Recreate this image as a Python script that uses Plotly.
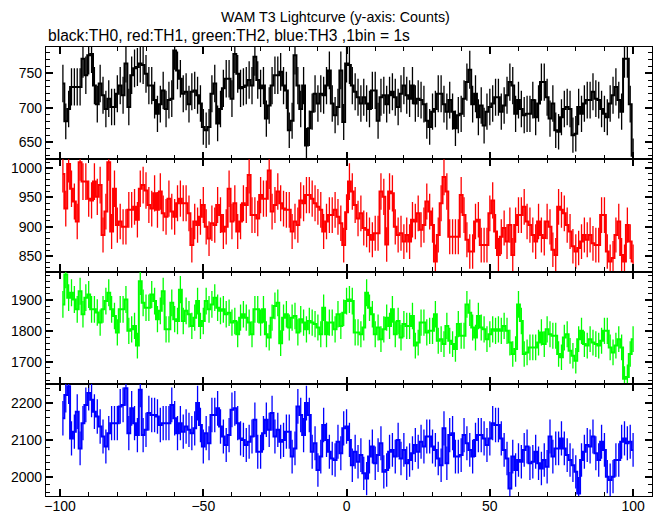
import math
import plotly.graph_objects as go
from plotly.subplots import make_subplots

# 1-s bins (bin centres, seconds)
TIME = list(range(-99, 101))

TH0 = [735, 680, 698, 730, 730, 730, 730, 771, 747, 776, 778, 732, 705, 735, 718, 698, 713, 701, 701, 720,
       732, 718, 764, 701, 747, 757, 759, 764, 762, 749, 732, 732, 711, 691, 705, 725, 698, 711, 713, 783,
       754, 742, 720, 723, 705, 723, 725, 718, 706, 672, 667, 672, 720, 735, 677, 698, 728, 742, 742, 713,
       778, 749, 728, 730, 732,
       740, 732, 774, 740, 728, 732, 684, 703, 732, 747, 747, 752, 732, 725, 667, 681, 776, 732, 698, 732,
       645, 670, 694, 720, 706, 720, 718, 732, 754, 706, 689, 701, 754, 679, 764, 762, 732, 723, 715, 706,
       715, 706, 698, 725, 725, 681, 715, 718, 705, 718, 723, 715, 701, 720, 732, 718, 713, 732, 706, 713,
       711, 705, 681, 672, 694, 698, 720, 720, 705,
       694, 711, 694, 670, 689, 691, 713, 737, 755, 705, 720, 686, 703, 674, 694, 701, 706, 715, 715, 694,
       703, 718, 737, 732, 691, 711, 698, 689, 691, 691, 711, 686, 706, 737, 737, 715, 684, 706, 667, 665,
       686, 698, 701, 698, 660, 662, 701, 691, 706, 711, 711, 723, 713, 711, 698, 691, 686, 706, 718, 730,
       711, 694, 771, 771, 705, 630]

TH1 = [990, 931, 1007, 965, 943, 909, 1010, 977, 977, 948, 945, 977, 951, 971, 886, 926, 1010, 892, 965, 903,
       909, 900, 900, 929, 929, 934, 912, 965, 971, 962, 937, 931, 957, 929, 960, 923, 917, 948, 926, 917,
       940, 948, 940, 940, 923, 869, 909, 903, 917, 937, 900, 880, 906, 903, 937, 920, 892, 900, 965, 909,
       940, 892, 909, 940, 937,
       988, 920, 920, 914, 954, 948, 948, 996, 926, 937, 960, 940, 931, 929, 929, 892, 909, 903, 945, 940,
       954, 954, 948, 940, 934, 929, 892, 909, 920, 920, 929, 917, 906, 869, 925, 977, 960, 937, 914, 923,
       898, 895, 886, 878, 889, 889, 960, 951, 870, 960, 957, 900, 886, 889, 875, 886, 875, 912, 909, 923,
       895, 903, 943, 926, 903, 841, 886, 940, 985,
       960, 883, 883, 883, 883, 954, 920, 878, 858, 858, 909, 912, 869, 869, 869, 923, 945, 892, 852, 883,
       898, 875, 903, 852, 903, 920, 920, 934, 909, 903, 886, 875, 909, 886, 881, 909, 900, 861, 852, 934,
       929, 923, 903, 892, 867, 858, 864, 875, 886, 878, 886, 872, 869, 869, 920, 920, 858, 841, 847, 886,
       909, 852, 841, 903, 875, 841]

TH2 = [1886, 1983, 1908, 1924, 1902, 1870, 1929, 1854, 1908, 1918, 1870, 1870, 1860, 1827, 1870, 1897, 1924,
       1870, 1848, 1795, 1870, 1870, 1902, 1800, 1805, 1816, 1752, 1961, 1891, 1875, 1875, 1918, 1897, 1838,
       1865, 1929, 1805, 1805, 1891, 1838, 1832, 1934, 1832, 1865, 1854, 1816, 1843, 1897, 1816, 1832, 1897,
       1870, 1886, 1908, 1875, 1865, 1870, 1854, 1859, 1827, 1832, 1789, 1843, 1854, 1843,
       1827, 1789, 1870, 1870, 1827, 1870, 1789, 1778, 1843, 1881, 1891, 1760, 1843, 1854, 1811, 1843, 1848,
       1795, 1838, 1827, 1805, 1832, 1827, 1822, 1811, 1789, 1875, 1789, 1827, 1827, 1805, 1854, 1816, 1859,
       1897, 1902, 1897, 1795, 1795, 1789, 1811, 1924, 1875, 1854, 1789, 1811, 1773, 1805, 1843, 1816, 1870,
       1789, 1832, 1778, 1822, 1816, 1816, 1848, 1752, 1762, 1827, 1827, 1795, 1800, 1800, 1854, 1768, 1773,
       1757,
       1816, 1768, 1757, 1741, 1822, 1784, 1784, 1886, 1859, 1811, 1778, 1848, 1811, 1805, 1773, 1789, 1805,
       1800, 1805, 1800, 1816, 1800, 1762, 1725, 1741, 1886, 1832, 1725, 1730, 1746, 1746, 1746, 1762, 1795,
       1757, 1805, 1789, 1784, 1784, 1725, 1714, 1778, 1789, 1735, 1719, 1703, 1773, 1800, 1757, 1752, 1773,
       1762, 1757, 1752, 1768, 1800, 1800, 1746, 1730, 1752, 1773, 1746, 1644, 1650, 1725, 1773]

TH3 = [2159, 2222, 2245, 2105, 2123, 2177, 2078, 2146, 2195, 2227, 2209, 2177, 2164, 2137, 2110, 2083, 2119,
       2146, 2146, 2146, 2191, 2195, 2240, 2119, 2186, 2146, 2114, 2236, 2114, 2128, 2173, 2168, 2168, 2164,
       2141, 2146, 2146, 2146, 2195, 2159, 2119, 2146, 2123, 2137, 2128, 2119, 2132, 2200, 2141, 2083, 2119,
       2092, 2168, 2168, 2186, 2137, 2110, 2087, 2114, 2182, 2186, 2146, 2105, 2101, 2087,
       2096, 2110, 2155, 2069, 2069, 2119, 2155, 2128, 2173, 2110, 2128, 2096, 2101, 2123, 2123, 2056, 2078,
       2191, 2168, 2114, 2200, 2168, 2069, 2092, 2020, 2056, 2141, 2101, 2069, 2051, 2047, 2096, 2065, 2132,
       2137, 2101, 2033, 2069, 2042, 2060, 2011, 1997, 2056, 2083, 2038, 2060, 2092, 2015, 2020, 2069, 2074,
       2056, 2101, 2051, 2074, 2038, 2047, 2065, 2087, 2069, 2096, 2083, 2110, 2110, 2083, 2074, 2051, 2033,
       2132,
       2038, 2114, 2119, 2056, 2056, 2060, 2114, 2092, 2074, 2056, 2101, 2114, 2114, 2105, 2087, 2105, 2146,
       2141, 2141, 2105, 2074, 2051, 1970, 2056, 2020, 2047, 2042, 2074, 2083, 2038, 2042, 2069, 2038, 2024,
       2047, 2029, 2110, 2056, 2078, 2078, 2105, 2078, 2060, 2047, 2033, 2015, 1957, 2047, 2069, 2087, 2083,
       2110, 2065, 2047, 2096, 2074, 2002, 1993, 2002, 2047, 2047, 2096, 2105, 2092, 2096, 2074]

SERIES_NAMES = ["TH0", "TH1", "TH2", "TH3"]
SERIES_VALUES = [TH0, TH1, TH2, TH3]
SERIES_COLORS = ["#000000", "#ff0000", "#00ff00", "#0000ff"]

Y_RANGES = [[625, 788], [824, 1015], [1628, 1993], [1950, 2252]]
Y_MAJOR = [50, 50, 100, 100]
Y_MINOR = [10, 10, 20, 20]
X_RANGE = [-104.9, 106.6]

TITLE = "WAM T3 Lightcurve (y-axis: Counts)"
SUBTITLE = "black:TH0, red:TH1, green:TH2, blue:TH3 ,1bin = 1s"

FONT = "Liberation Sans, Arial, Helvetica, sans-serif"

fig = make_subplots(rows=4, cols=1, shared_xaxes=True, vertical_spacing=0)

for i, (name, vals, col) in enumerate(zip(SERIES_NAMES, SERIES_VALUES, SERIES_COLORS)):
    errs = [math.sqrt(v) for v in vals]
    fig.add_trace(go.Scatter(
        x=TIME, y=vals, name=name, mode="lines",
        line=dict(shape="hvh", color=col, width=2),
        error_y=dict(type="data", array=errs, visible=True, color=col, thickness=1.3, width=0),
        showlegend=False, hoverinfo="skip"), row=i + 1, col=1)

for i in range(4):
    fig.update_yaxes(
        row=i + 1, col=1, range=Y_RANGES[i], tickmode="linear", tick0=0, dtick=Y_MAJOR[i],
        ticks="inside", ticklen=7, tickwidth=2, tickcolor="black",
        showline=True, linecolor="black", linewidth=1.2, mirror="allticks",
        showgrid=False, zeroline=False, automargin=False,
        minor=dict(ticks="inside", ticklen=4, tickwidth=1, tickcolor="black",
                   tickmode="linear", tick0=0, dtick=Y_MINOR[i], showgrid=False),
        tickfont=dict(family=FONT, size=14, color="black"))
    fig.update_xaxes(
        row=i + 1, col=1, range=X_RANGE, tickmode="linear", tick0=0, dtick=50,
        ticks="inside", ticklen=7, tickwidth=2, tickcolor="black",
        showline=True, linecolor="black", linewidth=1.2, mirror="allticks",
        showgrid=False, zeroline=False, showticklabels=(i == 3), automargin=False,
        ticklabelstandoff=-3,
        minor=dict(ticks="inside", ticklen=4, tickwidth=1, tickcolor="black",
                   tickmode="linear", tick0=0, dtick=10, showgrid=False),
        tickfont=dict(family=FONT, size=14, color="black"))

fig.add_annotation(text=TITLE, xref="paper", yref="paper", x=0.4785, y=1.0668,
                   xanchor="center", yanchor="middle", showarrow=False,
                   font=dict(family=FONT, size=14.3, color="black"))
fig.add_annotation(text=SUBTITLE, xref="paper", yref="paper", x=0.0, y=1.0267,
                   xanchor="left", yanchor="middle", showarrow=False,
                   font=dict(family=FONT, size=15.6, color="black"))

# the page body adds an 8 px offset, so the figure is 8 px smaller
fig.update_layout(
    width=654, height=507,
    margin=dict(l=38, r=10, t=39, b=19, autoexpand=False),
    paper_bgcolor="white", plot_bgcolor="white",
    showlegend=False,
)

fig.write_html("out.html")
